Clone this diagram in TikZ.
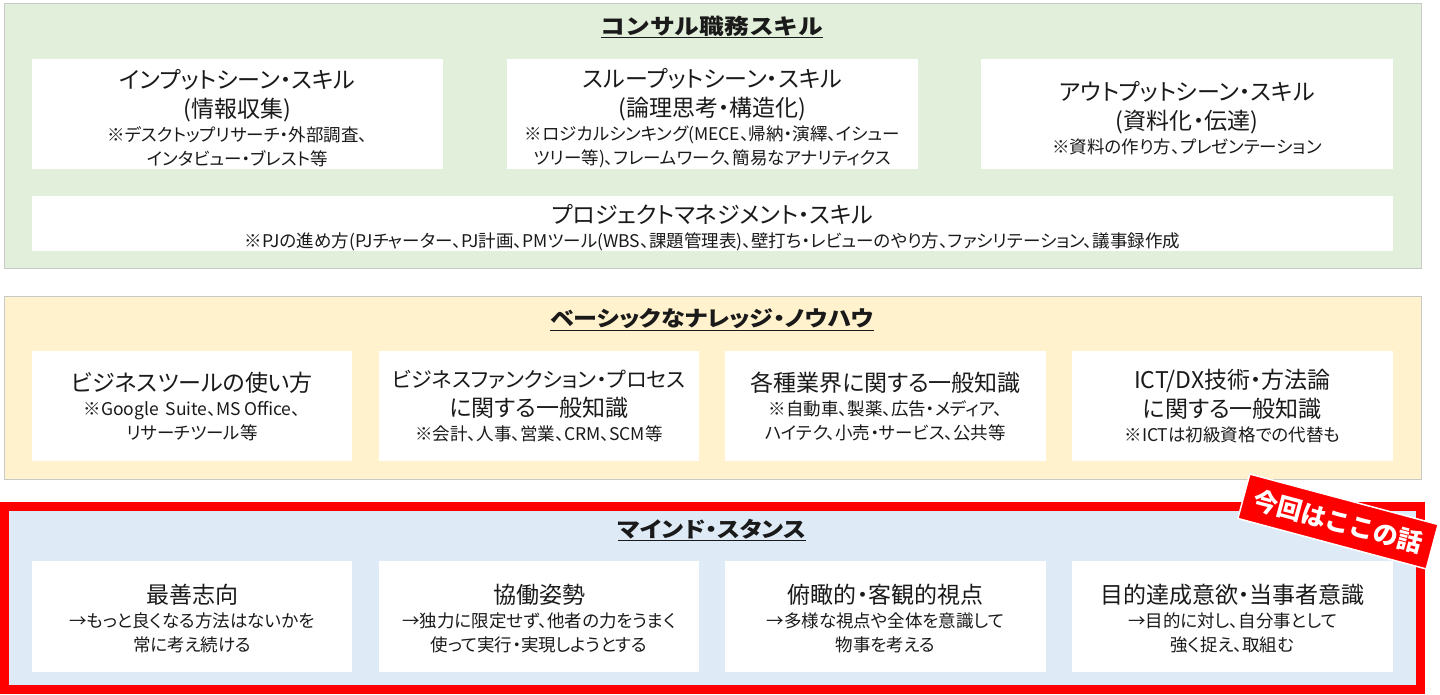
\documentclass[tikz,border=0pt]{standalone}
\usepackage{fontspec}
\setmainfont{Noto Sans CJK JP}[RawFeature={+palt}]
\newfontfamily\ttlfont{Noto Sans CJK JP}[FakeStretch=1.15]
\newfontfamily\ttlfontp{Noto Sans CJK JP}[FakeStretch=1.12,RawFeature={+palt}]
\newfontfamily\badgefont{Noto Sans CJK JP}
\definecolor{greenbg}{HTML}{E2EFDA}
\definecolor{yellowbg}{HTML}{FFF2CC}
\definecolor{bluebg}{HTML}{DEEBF7}
\definecolor{panelline}{HTML}{C9C9C9}
\definecolor{txt}{HTML}{1A1A1A}
\definecolor{hot}{HTML}{FF0000}
\newcommand\boxhead[1]{{\fontsize{23}{29}\selectfont #1\par}}
\newcommand\boxsub[1]{{\fontsize{17.5}{24}\selectfont #1\par}}
\newcommand\toppad{\rule{0pt}{28pt}}
\newcommand\toppadb{\rule{0pt}{24pt}}
\tikzset{
  panel/.style={draw=panelline, line width=1pt, inner sep=0pt},
  card/.style={fill=white, inner sep=0pt, align=center, text=txt},
  ptitle/.style={inner sep=0pt, text=txt, font=\ttlfont\bfseries\fontsize{21.5}{26}\selectfont},
  ptitlep/.style={inner sep=0pt, text=txt, font=\ttlfontp\bfseries\fontsize{21.5}{26}\selectfont},
  badge/.style={fill=hot, draw=white, line width=1.5pt, text=white, inner sep=0pt,
    minimum width=195pt, minimum height=46pt, rotate=-15,
    font=\badgefont\bfseries\fontsize{25}{28}\selectfont}
}
\begin{document}
\begin{tikzpicture}[x=1pt,y=-1pt]
\useasboundingbox (0,0) rectangle (1440,695);
\fill[white] (0,0) rectangle (1440,695);

% ---------- green panel ----------
\node[panel, fill=greenbg, minimum width=1417pt, minimum height=264pt] (gp) at (712.5,136) {};
\node[ptitle] (gt) at (712,27) {\underline{コンサル職務スキル}};
\node[card, minimum width=411pt, minimum height=110pt, text width=405pt] (in) at (237.5,114)
  {\boxhead{\toppad インプットシーン・スキル\\(情報収集)}\boxsub{※デスクトップリサーチ・外部調査、\\インタビュー・ブレスト等}};
\node[card, minimum width=411pt, minimum height=110pt, text width=405pt] (th) at (712.5,114)
  {\boxhead{\toppad スループットシーン・スキル\\(論理思考・構造化)}\boxsub{※ロジカルシンキング(MECE、帰納・演繹、イシュー\\ツリー等)、フレームワーク、簡易なアナリティクス}};
\node[card, minimum width=412pt, minimum height=110pt, text width=406pt] (out) at (1187,114)
  {\boxhead{\toppad アウトプットシーン・スキル\\(資料化・伝達)}\boxsub{※資料の作り方、プレゼンテーション}};
\node[card, minimum width=1361pt, minimum height=55pt, text width=1355pt] (pm) at (712.5,223.5)
  {\boxhead{\toppad プロジェクトマネジメント・スキル}\boxsub{※PJの進め方(PJチャーター、PJ計画、PMツール(WBS、課題管理表)、壁打ち・レビューのやり方、ファシリテーション、議事録作成}};

% ---------- yellow panel ----------
\node[panel, fill=yellowbg, minimum width=1417pt, minimum height=183pt] (yp) at (712.5,387.5) {};
\node[ptitlep] (yt) at (712,320) {\underline{ベーシックなナレッジ・ノウハウ}};
\node[card, minimum width=320pt, minimum height=110pt, text width=314pt] (b1) at (192,406)
  {\boxhead{ビジネスツールの使い方}\boxsub{※Google\ \ Suite、MS Office、\\リサーチツール等}};
\node[card, minimum width=320pt, minimum height=110pt, text width=314pt] (b2) at (539,406)
  {\boxhead{{\fontsize{21}{29}\selectfont ビジネスファンクション・プロセス}\\に関する一般知識}\boxsub{※会計、人事、営業、CRM、SCM等}};
\node[card, minimum width=321pt, minimum height=110pt, text width=315pt] (b3) at (885.5,406)
  {\boxhead{各種業界に関する一般知識}\boxsub{※自動車、製薬、広告・メディア、\\ハイテク、小売・サービス、公共等}};
\node[card, minimum width=321pt, minimum height=110pt, text width=315pt] (b4) at (1232.5,406)
  {\boxhead{ICT/DX技術・方法論\\に関する一般知識}\boxsub{※ICTは初級資格での代替も}};

% ---------- blue panel with red frame ----------
\node[draw=hot, line width=9pt, fill=bluebg, inner sep=0pt, minimum width=1416pt, minimum height=183pt] (bp) at (712.5,598) {};
\node[ptitlep] (bt) at (712,530) {\underline{マインド・スタンス}};
\node[card, minimum width=320pt, minimum height=111pt, text width=314pt] (m1) at (192,616.5)
  {\boxhead{\toppadb 最善志向}\boxsub{→もっと良くなる方法はないかを\\常に考え続ける}};
\node[card, minimum width=320pt, minimum height=111pt, text width=314pt] (m2) at (539,616.5)
  {\boxhead{\toppadb 協働姿勢}\boxsub{→独力に限定せず、他者の力をうまく\\使って実行・実現しようとする}};
\node[card, minimum width=321pt, minimum height=111pt, text width=315pt] (m3) at (885.5,616.5)
  {\boxhead{\toppadb 俯瞰的・客観的視点}\boxsub{→多様な視点や全体を意識して\\物事を考える}};
\node[card, minimum width=321pt, minimum height=111pt, text width=315pt] (m4) at (1232.5,616.5)
  {\boxhead{\toppadb 目的達成意欲・当事者意識}\boxsub{→目的に対し、自分事として\\強く捉え、取組む}};

% ---------- badge ----------
\node[badge] (bdg) at (1338,521.5) {今回はここの話};
\end{tikzpicture}
\end{document}
